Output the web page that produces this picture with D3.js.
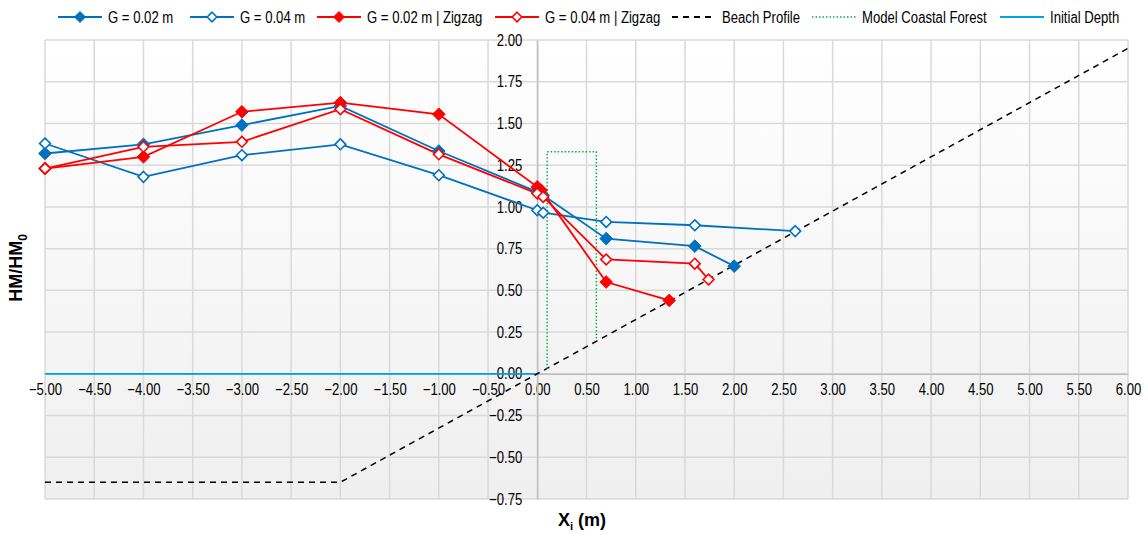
<!DOCTYPE html>
<html>
<head>
<meta charset="utf-8">
<script src="https://cdn.jsdelivr.net/npm/d3@7"></script>
<style>
  html, body { margin: 0; padding: 0; background: #fff; }
  svg { display: block; }
  text { font-family: "Liberation Sans", Arial, sans-serif; }
</style>
</head>
<body>
<svg id="chart" width="1148" height="535"></svg>
<script>
// ---- Data ----
const xTicks = [-5, -4.5, -4, -3.5, -3, -2.5, -2, -1.5, -1, -0.5, 0, 0.5, 1, 1.5, 2, 2.5, 3, 3.5, 4, 4.5, 5, 5.5, 6];
const yTicks = [-0.75, -0.5, -0.25, 0, 0.25, 0.5, 0.75, 1, 1.25, 1.5, 1.75, 2];

const g002X = [-5, -4, -3, -2, -1, 0, 0.06, 0.7, 1.6, 2.0];
const g002Y = [1.32, 1.375, 1.49, 1.605, 1.335, 1.09, 1.07, 0.81, 0.765, 0.645];

const g004X = [-5, -4, -3, -2, -1, 0, 0.06, 0.7, 1.6, 2.62];
const g004Y = [1.38, 1.18, 1.31, 1.375, 1.19, 0.98, 0.965, 0.91, 0.89, 0.855];

const g002zX = [-5, -4, -3, -2, -1, 0, 0.04, 0.7, 1.34];
const g002zY = [1.23, 1.30, 1.57, 1.625, 1.555, 1.12, 1.10, 0.55, 0.44];

const g004zX = [-5, -4, -3, -2, -1, 0, 0.06, 0.7, 1.6, 1.74];
const g004zY = [1.23, 1.36, 1.39, 1.585, 1.315, 1.08, 1.06, 0.685, 0.66, 0.565];

const beachX = [-5, -2, 6];
const beachY = [-0.65, -0.65, 1.95];

const forestX = [0.1, 0.1, 0.6, 0.6];
const forestY = [0.03, 1.33, 1.33, 0.2];

const depthX = [-5, 0];
const depthY = [0, 0];

const seriesNames = ["G = 0.02 m", "G = 0.04 m", "G = 0.02 m | Zigzag", "G = 0.04 m | Zigzag", "Beach Profile", "Model Coastal Forest", "Initial Depth"];

// ---- Setup ----
const NARROW = 0.82;   // emulate Arial Narrow
const FS = 16;
const svg = d3.select("#chart");
const plot = { left: 45, right: 1128, top: 40, bottom: 499 };
const x = d3.scaleLinear().domain([-5, 6]).range([plot.left, plot.right]);
const y = d3.scaleLinear().domain([-0.75, 2]).range([plot.bottom, plot.top]);

const BLUE = "#0070C0", RED = "#FF0000", GREEN = "#00B050", BLACK = "#000000", LBLUE = "#00A2E8";

const defs = svg.append("defs");
const grad = defs.append("linearGradient").attr("id", "bg").attr("x1", 0).attr("y1", 0).attr("x2", 0).attr("y2", 1);
grad.append("stop").attr("offset", "0%").attr("stop-color", "#ffffff");
grad.append("stop").attr("offset", "100%").attr("stop-color", "#efefef");

svg.append("rect").attr("x", plot.left).attr("y", plot.top)
  .attr("width", plot.right - plot.left).attr("height", plot.bottom - plot.top)
  .attr("fill", "url(#bg)");

// gridlines
const grid = svg.append("g");
grid.selectAll("line.v").data(xTicks).join("line")
  .attr("x1", d => x(d)).attr("x2", d => x(d))
  .attr("y1", plot.top).attr("y2", plot.bottom)
  .attr("stroke", "#d9d9d9").attr("stroke-width", 1.5);
grid.selectAll("line.h").data(yTicks).join("line")
  .attr("x1", plot.left).attr("x2", plot.right)
  .attr("y1", d => y(d)).attr("y2", d => y(d))
  .attr("stroke", "#d9d9d9").attr("stroke-width", 1.5);

// axes (crossing at 0)
const xAxis = d3.axisBottom(x).tickValues(xTicks).tickSize(0).tickFormat(d3.format(".2f"));
const gx = svg.append("g").attr("transform", `translate(0,${y(0)})`).call(xAxis);
gx.select(".domain").attr("stroke", "#bfbfbf").attr("stroke-width", 1.5);
gx.selectAll("text").attr("dy", 0).attr("y", 21).attr("font-size", FS).attr("fill", "#000")
  .attr("transform", `scale(${NARROW},1)`);

const yAxis = d3.axisLeft(y).tickValues(yTicks).tickSize(0).tickFormat(d3.format(".2f"));
const gy = svg.append("g").attr("transform", `translate(${x(0)},0)`).call(yAxis);
gy.select(".domain").attr("stroke", "#bfbfbf").attr("stroke-width", 1.5);
gy.selectAll("text").attr("x", -15 / NARROW).attr("font-size", FS).attr("fill", "#000")
  .attr("transform", `scale(${NARROW},1)`);

// lines
const line = d3.line().x(d => x(d[0])).y(d => y(d[1]));
const zip = (a, b) => a.map((v, i) => [v, b[i]]);

svg.append("path").datum(zip(depthX, depthY)).attr("d", line)
  .attr("fill", "none").attr("stroke", LBLUE).attr("stroke-width", 1.8);
svg.append("path").datum(zip(beachX, beachY)).attr("d", line)
  .attr("fill", "none").attr("stroke", BLACK).attr("stroke-width", 1.5).attr("stroke-dasharray", "6,5");
svg.append("path").datum(zip(forestX, forestY)).attr("d", line)
  .attr("fill", "none").attr("stroke", GREEN).attr("stroke-width", 1.5).attr("stroke-dasharray", "1.5,2");

const diamond = r => `M0,${-r}L${r},0L0,${r}L${-r},0Z`;

const series = [
  { xs: g002X, ys: g002Y, color: BLUE, filled: true },
  { xs: g004X, ys: g004Y, color: BLUE, filled: false },
  { xs: g002zX, ys: g002zY, color: RED, filled: true },
  { xs: g004zX, ys: g004zY, color: RED, filled: false },
];
series.forEach(s => {
  const pts = zip(s.xs, s.ys);
  svg.append("path").datum(pts).attr("d", line)
    .attr("fill", "none").attr("stroke", s.color).attr("stroke-width", 1.8);
});
series.forEach(s => {
  const pts = zip(s.xs, s.ys);
  svg.append("g").selectAll("path").data(pts).join("path")
    .attr("transform", d => `translate(${x(d[0])},${y(d[1])})`)
    .attr("d", s.filled ? diamond(6.3) : diamond(5.4))
    .attr("fill", s.filled ? s.color : "#fff")
    .attr("stroke", s.color).attr("stroke-width", s.filled ? 1 : 1.6);
});

// legend
const legendItems = [
  { x: 58, color: BLUE, type: "marker", filled: true },
  { x: 190, color: BLUE, type: "marker", filled: false },
  { x: 317, color: RED, type: "marker", filled: true },
  { x: 495, color: RED, type: "marker", filled: false },
  { x: 672, color: BLACK, type: "dash" },
  { x: 812, color: GREEN, type: "dot" },
  { x: 1000, color: LBLUE, type: "solid" },
];
const ly = 17;
const lg = svg.append("g");
legendItems.forEach((it, i) => {
  const g = lg.append("g");
  const l = g.append("line").attr("x1", it.x).attr("x2", it.x + 44).attr("y1", ly).attr("y2", ly)
    .attr("stroke", it.color).attr("stroke-width", it.type === "dot" ? 1.5 : 1.8);
  if (it.type === "dash") l.attr("stroke-dasharray", "6,5").attr("stroke-width", 1.8);
  if (it.type === "dot") l.attr("stroke-dasharray", "1.5,2");
  if (it.type === "marker") {
    g.append("path").attr("transform", `translate(${it.x + 22},${ly})`)
      .attr("d", it.filled ? diamond(5.5) : diamond(4.8))
      .attr("fill", it.filled ? it.color : "#fff")
      .attr("stroke", it.color).attr("stroke-width", it.filled ? 1 : 1.6);
  }
  g.append("text").attr("transform", `translate(${it.x + 50},${ly}) scale(${NARROW},1)`)
    .attr("dy", "0.35em").attr("font-size", FS).attr("fill", "#000").text(seriesNames[i]);
});

// axis titles
const yt = svg.append("text").attr("transform", `translate(22,268) rotate(-90)`)
  .attr("text-anchor", "middle").attr("font-size", 18).attr("font-weight", "bold");
yt.append("tspan").text("HM/HM");
yt.append("tspan").attr("font-size", 12).attr("dy", 5).text("0");

const xt = svg.append("text").attr("x", 582).attr("y", 526)
  .attr("text-anchor", "middle").attr("font-size", 18).attr("font-weight", "bold");
xt.append("tspan").text("X");
xt.append("tspan").attr("font-size", 11).attr("dy", 4).text("i");
xt.append("tspan").attr("dy", -4).text(" (m)");
</script>
</body>
</html>
